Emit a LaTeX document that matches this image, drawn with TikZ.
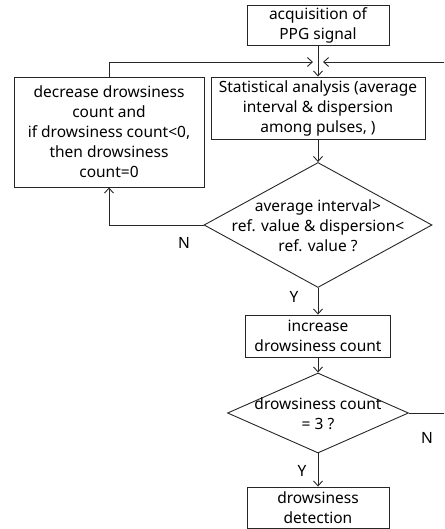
\documentclass[tikz,border=0pt]{standalone}
\usepackage{fontspec}
\setmainfont{Noto Sans}
\usetikzlibrary{shapes.geometric,arrows.meta}
\begin{document}
\begin{tikzpicture}[x=1pt,y=-1pt,
  every node/.style={font=\fontsize{15.5}{20}\selectfont, text=black},
  box/.style={draw=black!85, line width=0.9pt, align=center, inner sep=0pt},
  dia/.style={draw=black!85, line width=0.9pt, diamond, inner sep=0pt},
  lbl/.style={align=center, inner sep=0pt},
  conn/.style={draw=black!85, line width=0.9pt},
  arr/.style={conn, -{Straight Barb[length=5pt,width=9pt,line width=0.9pt]}}
]
\useasboundingbox (0,0) rectangle (444,529);
\clip (0,0) rectangle (444,529);
\node[box, minimum width=142, minimum height=40] (acq) at (318,25) {acquisition of\\PPG signal};
\node[box, minimum width=214, minimum height=62] (stat) at (318,108) {Statistical analysis (average\\interval \& dispersion\\among pulses, )};
\node[box, minimum width=190, minimum height=110] (dec) at (109,132) {decrease drowsiness\\count and\\if drowsiness count<0,\\then drowsiness\\count=0};
\node[dia, minimum width=228, minimum height=125] (d1) at (318,225) {};
\node[lbl] (d1t) at (318,226) {average interval>\\ref. value \& dispersion<\\ref. value ?};
\node[box, minimum width=145, minimum height=42] (inc) at (318,336) {increase\\drowsiness count};
\node[dia, minimum width=181, minimum height=80] (d2) at (318,413) {};
\node[lbl] (d2t) at (318,414) {drowsiness count\\= 3 ?};
\node[box, minimum width=142, minimum height=41] (det) at (318,507.5) {drowsiness\\detection};
\coordinate (mL) at (313,62);
\coordinate (mR) at (323,62);
\coordinate (rc) at (449,62);
\coordinate (rd) at (449,413);
\draw[arr] (acq.south) -- (stat.north);
\draw[arr] (dec.north) |- (mL);
\draw[arr] (d2.east) -- (rd) -- (rc) -- (mR);
\draw[arr] (stat.south) -- (d1.north);
\draw[arr] (d1.west) -| (dec.south);
\draw[arr] (d1.south) -- (inc.north);
\draw[arr] (inc.south) -- (d2.north);
\draw[arr] (d2.south) -- (det.north);
\node[lbl] (n1) at (184,243) {N};
\node[lbl] (y1) at (294,297) {Y};
\node[lbl] (n2) at (427,438) {N};
\node[lbl] (y2) at (302,471) {Y};
\end{tikzpicture}
\end{document}
